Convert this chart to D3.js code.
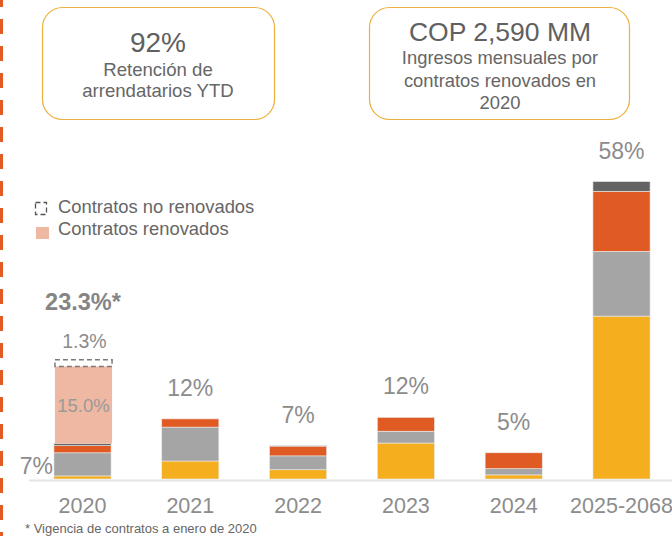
<!DOCTYPE html>
<html>
<head>
<meta charset="utf-8">
<script src="https://cdn.jsdelivr.net/npm/d3@7"></script>
<style>
  body { margin: 0; background: #fff; }
  svg { font-family: "Liberation Sans", Arial, sans-serif; display: block; }
</style>
</head>
<body>
<div id="chart"></div>
<script>
// categories and values (% of contracts expiring)
const years = ["2020", "2021", "2022", "2023", "2024", "2025-2068"];
const yellowVals = [0.6, 3.5, 1.8, 7.0, 0.8, 31.7];
const greyVals = [4.5, 6.6, 2.7, 2.3, 1.2, 12.6];
const orangeVals = [1.4, 1.6, 1.9, 2.7, 3.1, 11.7];
const darkVals = [0.4, 0, 0.1, 0, 0, 1.9];
const totalLabels = ["7%", "12%", "7%", "12%", "5%", "58%"];
// 2020 renewal breakdown
const renewed2020 = 15.0;
const notRenewed2020 = 1.3;
const total2020Label = "23.3%*";

const width = 672;
const height = 536;
const baseY = 479;

const svg = d3.select("#chart")
  .append("svg")
  .attr("width", width)
  .attr("height", height);

// left dashed border
svg.append("line")
  .attr("x1", 1.5).attr("x2", 1.5)
  .attr("y1", 0).attr("y2", height)
  .attr("stroke", "#E35B24")
  .attr("stroke-width", 3)
  .attr("stroke-dasharray", "15,12")
  .attr("stroke-dashoffset", 8);

// scales
const x = d3.scaleBand()
  .domain(years)
  .range([28.6, 675.4])
  .paddingInner(0.47)
  .paddingOuter(0.235);

const y = d3.scaleLinear()
  .domain([0, 60])
  .range([baseY, baseY - 60 * 5.138]);

// stacked data
const rows = years.map((yr, i) => ({
  year: yr,
  yellow: yellowVals[i],
  grey: greyVals[i],
  orange: orangeVals[i],
  dark: darkVals[i]
}));
const keys = ["yellow", "grey", "orange", "dark"];
const colors = { yellow: "#F4AE1E", grey: "#A5A5A5", orange: "#E05A24", dark: "#636363" };
const stacked = d3.stack().keys(keys)(rows);

// axis
const xAxis = d3.axisBottom(x).tickSize(0).tickSizeOuter(0).tickPadding(18);
const ax = svg.append("g")
  .attr("transform", `translate(0, ${baseY + 1})`)
  .call(xAxis);
ax.select(".domain").attr("stroke", "#E4E4E4").attr("stroke-width", 2);
ax.selectAll("text")
  .attr("fill", "#8C8C8C")
  .style("font-size", "21.5px")
  .style("font-family", "'Liberation Sans', Arial, sans-serif");

// bars
svg.selectAll(".series")
  .data(stacked)
  .enter()
  .append("g")
  .attr("fill", d => colors[d.key])
  .selectAll("rect")
  .data(d => d.filter(s => s[1] - s[0] > 0))
  .enter()
  .append("rect")
  .attr("x", d => x(d.data.year))
  .attr("y", d => y(d[1]))
  .attr("width", x.bandwidth())
  .attr("height", d => y(d[0]) - y(d[1]))
  .attr("stroke", "#ECECEC")
  .attr("stroke-width", 0.6);

// total labels
const tops = rows.map(r => keys.reduce((s, k) => s + r[k], 0));
svg.selectAll(".total")
  .data(years.slice(1))
  .enter()
  .append("text")
  .attr("x", d => x(d) + x.bandwidth() / 2)
  .attr("y", d => y(tops[years.indexOf(d)]) - 23)
  .attr("text-anchor", "middle")
  .attr("fill", "#8C8C8C")
  .style("font-size", "23px")
  .text(d => totalLabels[years.indexOf(d)]);

// 2020 details
const x20 = x("2020") + 1;
const bw = x.bandwidth();
const top20 = tops[0];
svg.append("text")
  .attr("x", x("2020") - 1)
  .attr("y", 474)
  .attr("text-anchor", "end")
  .attr("fill", "#8C8C8C")
  .style("font-size", "23px")
  .text(totalLabels[0]);

svg.append("rect")
  .attr("x", x20)
  .attr("y", y(top20 + renewed2020))
  .attr("width", bw)
  .attr("height", y(top20) - y(top20 + renewed2020))
  .attr("fill", "#EEB8A2");

svg.append("rect")
  .attr("x", x20)
  .attr("y", y(top20 + renewed2020 + notRenewed2020))
  .attr("width", bw)
  .attr("height", y(top20 + renewed2020) - y(top20 + renewed2020 + notRenewed2020))
  .attr("fill", "none")
  .attr("stroke", "#7A7A7A")
  .attr("stroke-width", 1.5)
  .attr("stroke-dasharray", "5,3");

svg.append("text")
  .attr("x", x20 + bw / 2)
  .attr("y", 412)
  .attr("text-anchor", "middle")
  .attr("fill", "#9A9A9A")
  .style("font-size", "18.5px")
  .text(renewed2020.toFixed(1) + "%");

svg.append("text")
  .attr("x", x20 + bw / 2 + 1)
  .attr("y", 348)
  .attr("text-anchor", "middle")
  .attr("fill", "#8C8C8C")
  .style("font-size", "19.5px")
  .text(notRenewed2020.toFixed(1) + "%");

svg.append("text")
  .attr("x", 83)
  .attr("y", 310)
  .attr("text-anchor", "middle")
  .attr("fill", "#858585")
  .style("font-size", "23.5px")
  .style("font-weight", "bold")
  .text(total2020Label);

// legend
svg.append("rect")
  .attr("x", 35.5).attr("y", 202.5)
  .attr("width", 11).attr("height", 12)
  .attr("fill", "none")
  .attr("stroke", "#555")
  .attr("stroke-width", 1.3)
  .attr("stroke-dasharray", "5,3");
svg.append("rect")
  .attr("x", 36).attr("y", 227)
  .attr("width", 13).attr("height", 12)
  .attr("fill", "#EEB8A2");
svg.append("text")
  .attr("x", 58).attr("y", 213)
  .attr("fill", "#666")
  .style("font-size", "18.4px")
  .text("Contratos no renovados");
svg.append("text")
  .attr("x", 58).attr("y", 235)
  .attr("fill", "#666")
  .style("font-size", "18.4px")
  .text("Contratos renovados");

// KPI boxes
svg.append("rect")
  .attr("x", 42.5).attr("y", 7.5)
  .attr("width", 232).attr("height", 112)
  .attr("rx", 20)
  .attr("fill", "none")
  .attr("stroke", "#EDB03F")
  .attr("stroke-width", 1.2);
svg.append("text")
  .attr("x", 158).attr("y", 52)
  .attr("text-anchor", "middle")
  .attr("fill", "#606060")
  .style("font-size", "28px")
  .text("92%");
svg.append("text")
  .attr("x", 158).attr("y", 76)
  .attr("text-anchor", "middle")
  .attr("fill", "#666")
  .style("font-size", "18.6px")
  .text("Retención de");
svg.append("text")
  .attr("x", 158).attr("y", 97)
  .attr("text-anchor", "middle")
  .attr("fill", "#666")
  .style("font-size", "18.6px")
  .text("arrendatarios YTD");

svg.append("rect")
  .attr("x", 369.5).attr("y", 7.5)
  .attr("width", 260).attr("height", 112)
  .attr("rx", 20)
  .attr("fill", "none")
  .attr("stroke", "#EDB03F")
  .attr("stroke-width", 1.2);
svg.append("text")
  .attr("x", 500).attr("y", 41)
  .attr("text-anchor", "middle")
  .attr("fill", "#606060")
  .style("font-size", "26.5px")
  .text("COP 2,590 MM");
["Ingresos mensuales por", "contratos renovados en", "2020"].forEach((t, i) => {
  svg.append("text")
    .attr("x", 500).attr("y", 64 + i * 22.5)
    .attr("text-anchor", "middle")
    .attr("fill", "#666")
    .style("font-size", "18.4px")
    .text(t);
});

// footnote
svg.append("text")
  .attr("x", 25).attr("y", 533)
  .attr("fill", "#666")
  .style("font-size", "13px")
  .text("* Vigencia de contratos a enero de 2020");
</script>
</body>
</html>
